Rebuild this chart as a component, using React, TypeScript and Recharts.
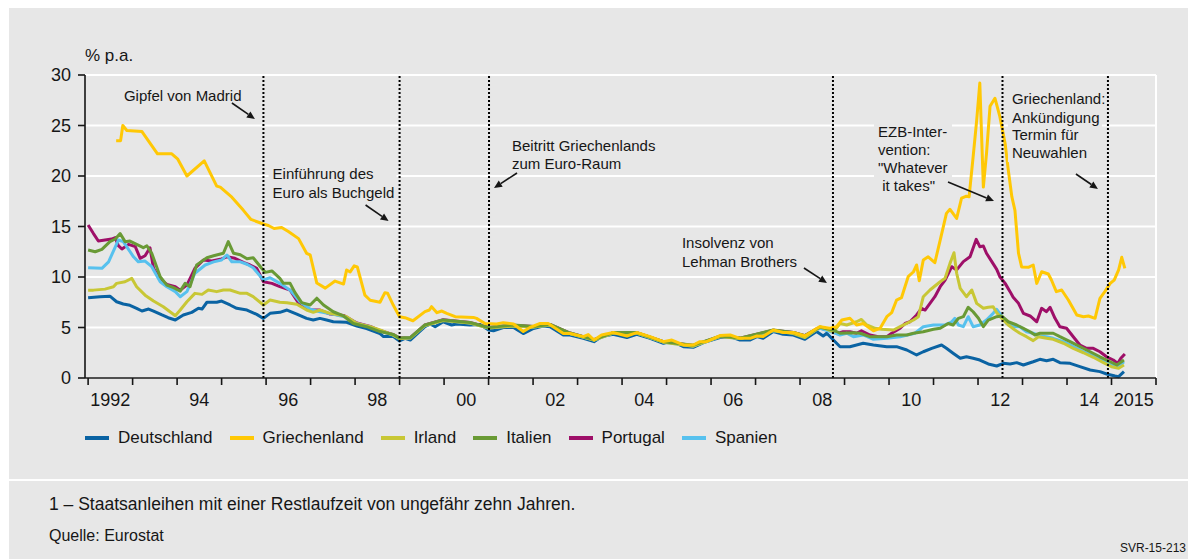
import React from "react";
import { LineChart, Line, XAxis, YAxis, CartesianGrid, ReferenceLine } from "recharts";

const FONT = '"Liberation Sans", Arial, sans-serif';
const PANEL = "#e7e7e7";
const INK = "#161616";

// ---- data: [decimal year, % p.a.] ----
const deutschland: [number, number][] = [
  [1992.0, 7.95], [1992.27, 8.05], [1992.49, 8.1], [1992.64, 7.55], [1992.79, 7.33], [1992.94, 7.2],
  [1993.09, 6.9], [1993.21, 6.63], [1993.36, 6.83], [1993.47, 6.63], [1993.66, 6.24], [1993.8, 5.97],
  [1993.96, 5.74], [1994.14, 6.24], [1994.33, 6.5], [1994.48, 6.9], [1994.56, 6.83], [1994.67, 7.5],
  [1994.89, 7.5], [1995.0, 7.62], [1995.19, 7.23], [1995.34, 6.9], [1995.57, 6.73], [1995.79, 6.3],
  [1995.94, 5.9], [1996.09, 6.4], [1996.31, 6.5], [1996.47, 6.73], [1996.69, 6.33], [1996.91, 5.9],
  [1997.06, 5.74], [1997.21, 5.9], [1997.36, 5.74], [1997.51, 5.57], [1997.81, 5.51], [1998.04, 5.15],
  [1998.26, 4.9], [1998.56, 4.4], [1998.64, 4.1], [1998.86, 4.1], [1999.0, 3.66], [1999.12, 3.93],
  [1999.24, 3.76], [1999.57, 5.08], [1999.69, 5.35], [1999.8, 5.08], [1999.98, 5.57], [2000.17, 5.25],
  [2000.28, 5.35], [2000.58, 5.25], [2000.81, 5.3], [2001.0, 4.75], [2001.11, 4.68], [2001.33, 5.0],
  [2001.56, 5.0], [2001.78, 4.4], [2002.01, 4.9], [2002.23, 5.15], [2002.38, 5.08], [2002.68, 4.26],
  [2002.83, 4.26], [2003.13, 3.93], [2003.37, 3.6], [2003.54, 4.1], [2003.8, 4.33], [2004.11, 4.0],
  [2004.33, 4.33], [2004.63, 3.93], [2004.93, 3.44], [2005.12, 3.66], [2005.38, 3.1], [2005.6, 3.04],
  [2005.83, 3.5], [2006.2, 4.0], [2006.43, 4.1], [2006.65, 3.76], [2006.88, 3.76], [2007.03, 4.1],
  [2007.17, 3.93], [2007.4, 4.6], [2007.62, 4.33], [2007.85, 4.26], [2008.11, 3.83], [2008.37, 4.6],
  [2008.52, 4.16], [2008.6, 4.43], [2008.75, 3.76], [2008.9, 3.1], [2009.12, 3.1], [2009.27, 3.27],
  [2009.42, 3.44], [2009.65, 3.27], [2009.95, 3.1], [2010.17, 3.1], [2010.4, 2.77], [2010.62, 2.28],
  [2010.77, 2.6], [2010.96, 2.94], [2011.18, 3.27], [2011.29, 2.94], [2011.44, 2.45], [2011.6, 1.95],
  [2011.74, 2.1], [2011.89, 1.95], [2012.04, 1.78], [2012.23, 1.39], [2012.42, 1.19], [2012.57, 1.45],
  [2012.72, 1.39], [2012.87, 1.52], [2013.02, 1.29], [2013.24, 1.61], [2013.39, 1.85], [2013.54, 1.71],
  [2013.69, 1.85], [2013.84, 1.52], [2014.07, 1.45], [2014.29, 1.12], [2014.52, 0.79], [2014.74, 0.63],
  [2014.89, 0.4], [2015.08, 0.2], [2015.16, 0.13], [2015.28, 0.63],
];

const griechenland: [number, number][] = [
  [1992.63, 23.5], [1992.73, 23.5], [1992.78, 25.0], [1992.87, 24.5], [1993.21, 24.4], [1993.56, 22.2],
  [1993.88, 22.2], [1994.01, 21.7], [1994.22, 20.0], [1994.61, 21.5], [1994.89, 19.0], [1994.97, 18.9],
  [1995.23, 17.9], [1995.49, 16.6], [1995.66, 15.7], [1995.94, 15.25], [1996.05, 15.1], [1996.18, 14.8],
  [1996.35, 14.9], [1996.5, 14.5], [1996.73, 13.8], [1996.91, 12.35], [1996.99, 12.2], [1997.14, 9.4],
  [1997.33, 8.9], [1997.55, 9.6], [1997.74, 9.3], [1997.81, 10.7], [1997.89, 10.5], [1997.98, 11.1],
  [1998.05, 11.0], [1998.22, 8.2], [1998.34, 7.7], [1998.56, 7.5], [1998.67, 8.45], [1998.73, 8.4],
  [1998.86, 7.2], [1999.0, 6.07], [1999.12, 5.97], [1999.3, 5.67], [1999.57, 6.57], [1999.67, 6.73],
  [1999.72, 7.06], [1999.84, 6.47], [1999.95, 6.63], [2000.06, 6.4], [2000.25, 6.07], [2000.66, 6.0],
  [2000.73, 5.9], [2000.92, 5.4], [2001.18, 5.35], [2001.33, 5.48], [2001.56, 5.35], [2001.78, 4.6],
  [2001.93, 5.0], [2002.16, 5.4], [2002.34, 5.4], [2002.68, 4.4], [2002.83, 4.4], [2003.13, 4.1],
  [2003.24, 4.3], [2003.37, 3.76], [2003.54, 4.26], [2003.8, 4.5], [2004.11, 4.16], [2004.33, 4.5],
  [2004.63, 4.1], [2004.93, 3.6], [2005.12, 3.76], [2005.38, 3.27], [2005.6, 3.27], [2005.75, 3.6],
  [2005.9, 3.6], [2006.2, 4.2], [2006.43, 4.26], [2006.65, 3.93], [2006.88, 3.93], [2007.03, 4.16],
  [2007.17, 4.1], [2007.4, 4.75], [2007.62, 4.5], [2007.85, 4.5], [2008.11, 4.16], [2008.37, 4.9],
  [2008.45, 5.08], [2008.67, 4.92], [2008.82, 5.08], [2008.94, 5.74], [2009.12, 5.91], [2009.27, 5.25],
  [2009.42, 5.4], [2009.65, 4.68], [2009.8, 4.92], [2009.95, 6.07], [2010.06, 6.47], [2010.17, 7.72],
  [2010.28, 7.95], [2010.43, 10.03], [2010.55, 10.52], [2010.62, 11.19], [2010.68, 9.63], [2010.77, 11.68],
  [2010.88, 12.0], [2011.03, 11.42], [2011.15, 13.66], [2011.29, 16.3], [2011.37, 16.7], [2011.52, 15.8],
  [2011.63, 17.8], [2011.74, 18.0], [2011.8, 17.95], [2011.89, 21.9], [2011.97, 25.5], [2012.04, 29.2],
  [2012.12, 18.9], [2012.19, 22.2], [2012.27, 26.9], [2012.38, 27.7], [2012.49, 25.9], [2012.61, 23.2],
  [2012.68, 20.6], [2012.76, 17.95], [2012.83, 16.6], [2012.91, 12.35], [2012.98, 11.0], [2013.13, 10.96],
  [2013.24, 11.19], [2013.32, 9.37], [2013.43, 10.52], [2013.58, 10.3], [2013.65, 9.7], [2013.76, 8.55],
  [2013.88, 8.71], [2014.03, 7.72], [2014.22, 6.24], [2014.37, 6.07], [2014.48, 6.14], [2014.63, 5.91],
  [2014.74, 7.89], [2014.85, 8.55], [2014.97, 9.37], [2015.06, 9.7], [2015.16, 10.7], [2015.23, 11.95],
  [2015.3, 10.86],
];

const irland: [number, number][] = [
  [1992.0, 8.7], [1992.12, 8.7], [1992.38, 8.8], [1992.57, 9.04], [1992.64, 9.37], [1992.83, 9.53],
  [1992.98, 9.87], [1993.09, 9.04], [1993.28, 8.2], [1993.47, 7.62], [1993.69, 7.06], [1993.96, 6.17],
  [1994.07, 6.73], [1994.22, 7.55], [1994.4, 8.38], [1994.56, 8.28], [1994.7, 8.71], [1994.89, 8.55],
  [1995.04, 8.71], [1995.19, 8.71], [1995.42, 8.38], [1995.57, 8.38], [1995.71, 8.05], [1995.94, 7.23],
  [1996.09, 7.72], [1996.31, 7.5], [1996.47, 7.46], [1996.69, 7.3], [1996.91, 6.73], [1997.06, 6.5],
  [1997.21, 6.73], [1997.44, 6.4], [1997.66, 6.24], [1997.81, 6.07], [1998.04, 5.4], [1998.34, 5.08],
  [1998.56, 4.75], [1998.86, 4.25], [1999.0, 3.9], [1999.24, 3.95], [1999.57, 5.2], [1999.98, 5.7],
  [2000.58, 5.45], [2001.0, 4.95], [2001.56, 5.15], [2002.01, 5.05], [2002.38, 5.25], [2002.83, 4.4],
  [2003.37, 3.75], [2003.8, 4.45], [2004.33, 4.45], [2004.93, 3.55], [2005.6, 3.15], [2006.2, 4.1],
  [2006.65, 3.9], [2007.4, 4.7], [2007.85, 4.4], [2008.11, 4.0], [2008.37, 4.8], [2008.45, 5.08],
  [2008.75, 4.58], [2008.9, 5.4], [2009.05, 5.25], [2009.27, 5.57], [2009.38, 5.8], [2009.5, 5.25],
  [2009.69, 4.92], [2009.83, 4.82], [2010.1, 4.75], [2010.25, 5.08], [2010.55, 5.74], [2010.66, 6.07],
  [2010.77, 8.05], [2010.92, 8.71], [2011.15, 9.53], [2011.26, 9.87], [2011.37, 11.35], [2011.46, 12.4],
  [2011.52, 10.37], [2011.6, 8.88], [2011.74, 8.05], [2011.86, 8.71], [2011.97, 7.39], [2012.12, 6.9],
  [2012.23, 7.0], [2012.34, 7.06], [2012.42, 6.47], [2012.53, 5.91], [2012.68, 5.25], [2012.83, 4.75],
  [2012.94, 4.43], [2013.09, 4.09], [2013.24, 3.7], [2013.36, 4.09], [2013.54, 3.93], [2013.69, 3.83],
  [2013.92, 3.44], [2014.14, 2.94], [2014.37, 2.5], [2014.59, 2.05], [2014.82, 1.52], [2015.0, 1.12],
  [2015.16, 0.96], [2015.28, 1.29],
];

const italien: [number, number][] = [
  [1992.0, 12.67], [1992.16, 12.5], [1992.31, 12.74], [1992.49, 13.5], [1992.61, 13.76], [1992.72, 14.3],
  [1992.83, 13.5], [1992.94, 13.56], [1993.09, 13.23], [1993.24, 12.9], [1993.32, 13.1], [1993.43, 12.35],
  [1993.62, 10.03], [1993.77, 9.2], [1993.92, 8.94], [1994.07, 8.6], [1994.18, 9.37], [1994.29, 9.04],
  [1994.44, 11.2], [1994.67, 11.9], [1994.82, 12.1], [1995.04, 12.35], [1995.15, 13.5], [1995.27, 12.35],
  [1995.42, 12.2], [1995.57, 11.8], [1995.71, 11.9], [1995.9, 10.86], [1995.98, 10.46], [1996.13, 10.6],
  [1996.31, 9.87], [1996.39, 9.37], [1996.54, 9.37], [1996.65, 8.45], [1996.8, 7.46], [1996.99, 7.23],
  [1997.14, 7.9], [1997.29, 7.23], [1997.51, 6.56], [1997.74, 6.14], [1997.96, 5.4], [1998.26, 5.08],
  [1998.56, 4.6], [1998.86, 4.3], [1999.0, 3.95], [1999.24, 4.0], [1999.57, 5.25], [1999.98, 5.75],
  [2000.58, 5.5], [2001.0, 5.0], [2001.56, 5.25], [2002.01, 5.1], [2002.38, 5.3], [2002.83, 4.45],
  [2003.37, 3.8], [2003.8, 4.5], [2004.33, 4.5], [2004.93, 3.6], [2005.6, 3.25], [2006.2, 4.15],
  [2006.65, 3.95], [2007.4, 4.75], [2007.85, 4.5], [2008.11, 4.2], [2008.37, 4.85], [2008.45, 5.02],
  [2008.75, 4.75], [2008.9, 4.43], [2009.2, 4.49], [2009.35, 4.43], [2009.57, 4.09], [2009.95, 4.09],
  [2010.17, 4.26], [2010.4, 4.26], [2010.55, 4.43], [2010.77, 4.58], [2011.0, 4.82], [2011.15, 4.92],
  [2011.33, 5.4], [2011.44, 5.25], [2011.56, 5.91], [2011.67, 6.07], [2011.78, 7.0], [2011.89, 6.56],
  [2012.01, 5.91], [2012.12, 5.08], [2012.23, 5.74], [2012.42, 6.07], [2012.53, 6.14], [2012.68, 5.57],
  [2012.87, 5.25], [2013.02, 4.92], [2013.17, 4.58], [2013.28, 4.26], [2013.39, 4.43], [2013.54, 4.43],
  [2013.69, 4.43], [2013.84, 4.09], [2014.07, 3.6], [2014.29, 3.1], [2014.52, 2.6], [2014.74, 2.1],
  [2014.97, 1.61], [2015.12, 1.29], [2015.28, 1.78],
];

const portugal: [number, number][] = [
  [1992.0, 15.15], [1992.12, 14.3], [1992.23, 13.56], [1992.38, 13.66], [1992.53, 13.76], [1992.61, 13.9],
  [1992.68, 13.1], [1992.76, 12.77], [1992.91, 13.23], [1993.06, 13.0], [1993.17, 11.85], [1993.28, 12.1],
  [1993.39, 12.9], [1993.47, 10.86], [1993.62, 9.7], [1993.77, 9.27], [1993.96, 9.04], [1994.07, 8.7],
  [1994.22, 9.2], [1994.4, 10.86], [1994.59, 11.68], [1994.78, 11.58], [1994.97, 11.75], [1995.12, 12.0],
  [1995.3, 11.85], [1995.49, 11.45], [1995.64, 11.19], [1995.79, 10.86], [1995.94, 9.53], [1996.13, 9.37],
  [1996.31, 9.04], [1996.54, 8.7], [1996.76, 7.2], [1996.99, 6.73], [1997.21, 6.73], [1997.44, 6.33],
  [1997.74, 6.2], [1998.04, 5.45], [1998.34, 5.1], [1998.56, 4.7], [1998.86, 4.3], [1999.0, 3.95],
  [1999.24, 4.0], [1999.57, 5.25], [1999.98, 5.78], [2000.58, 5.5], [2001.0, 5.0], [2001.56, 5.22],
  [2002.01, 5.1], [2002.38, 5.3], [2002.83, 4.45], [2003.37, 3.8], [2003.8, 4.48], [2004.33, 4.5],
  [2004.93, 3.6], [2005.6, 3.22], [2006.2, 4.12], [2006.65, 3.95], [2007.4, 4.72], [2007.85, 4.5],
  [2008.11, 4.2], [2008.37, 4.85], [2008.45, 4.92], [2008.75, 4.68], [2008.86, 4.43], [2008.97, 4.58],
  [2009.12, 4.58], [2009.27, 4.43], [2009.38, 4.68], [2009.57, 4.26], [2009.76, 4.09], [2009.95, 4.09],
  [2010.06, 4.43], [2010.25, 4.92], [2010.36, 5.4], [2010.47, 5.57], [2010.62, 6.24], [2010.73, 6.9],
  [2010.81, 6.73], [2010.92, 7.39], [2011.03, 8.05], [2011.15, 9.04], [2011.26, 9.7], [2011.41, 11.02],
  [2011.52, 10.7], [2011.67, 11.52], [2011.82, 12.0], [2011.96, 13.73], [2012.04, 13.0], [2012.12, 13.07],
  [2012.19, 12.35], [2012.31, 11.52], [2012.42, 10.76], [2012.49, 10.03], [2012.61, 9.37], [2012.72, 8.55],
  [2012.79, 7.99], [2012.91, 7.39], [2013.02, 6.4], [2013.17, 6.14], [2013.32, 5.57], [2013.43, 6.9],
  [2013.54, 6.57], [2013.62, 7.0], [2013.73, 5.91], [2013.84, 5.08], [2013.99, 4.92], [2014.14, 4.09],
  [2014.29, 3.27], [2014.44, 2.94], [2014.59, 2.94], [2014.74, 2.6], [2014.89, 2.1], [2015.04, 1.78],
  [2015.14, 1.45], [2015.21, 1.95], [2015.3, 2.38],
];

const spanien: [number, number][] = [
  [1992.0, 10.92], [1992.31, 10.86], [1992.46, 11.5], [1992.68, 13.66], [1992.79, 13.5], [1993.02, 12.0],
  [1993.13, 11.5], [1993.28, 11.58], [1993.43, 11.02], [1993.62, 9.53], [1993.77, 9.04], [1993.96, 8.55],
  [1994.07, 8.05], [1994.22, 8.55], [1994.4, 10.37], [1994.63, 11.19], [1994.82, 11.5], [1995.0, 11.68],
  [1995.12, 12.18], [1995.23, 11.5], [1995.42, 11.5], [1995.57, 11.26], [1995.71, 10.92], [1995.94, 9.7],
  [1996.09, 9.93], [1996.31, 9.37], [1996.54, 8.7], [1996.76, 7.55], [1996.99, 6.8], [1997.21, 6.56],
  [1997.51, 6.3], [1997.81, 6.0], [1998.04, 5.4], [1998.34, 5.05], [1998.56, 4.65], [1998.86, 4.25],
  [1999.0, 3.92], [1999.24, 3.98], [1999.57, 5.2], [1999.98, 5.72], [2000.58, 5.45], [2001.0, 4.95],
  [2001.56, 5.18], [2002.01, 5.05], [2002.38, 5.25], [2002.83, 4.4], [2003.37, 3.75], [2003.8, 4.45],
  [2004.33, 4.45], [2004.93, 3.55], [2005.6, 3.17], [2006.2, 4.1], [2006.65, 3.9], [2007.4, 4.68],
  [2007.85, 4.45], [2008.11, 4.1], [2008.37, 4.8], [2008.45, 4.92], [2008.75, 4.49], [2008.9, 4.26],
  [2009.05, 4.43], [2009.2, 4.09], [2009.42, 4.26], [2009.65, 3.83], [2009.95, 3.93], [2010.25, 4.09],
  [2010.58, 4.43], [2010.77, 5.08], [2011.0, 5.25], [2011.26, 5.25], [2011.41, 5.57], [2011.48, 5.91],
  [2011.56, 5.25], [2011.67, 5.08], [2011.78, 6.07], [2011.89, 5.08], [2012.04, 5.25], [2012.19, 5.74],
  [2012.34, 6.4], [2012.42, 6.8], [2012.53, 6.14], [2012.64, 5.4], [2012.79, 5.08], [2012.94, 5.08],
  [2013.09, 4.58], [2013.24, 4.43], [2013.39, 4.16], [2013.54, 4.09], [2013.69, 3.93], [2013.92, 3.6],
  [2014.14, 3.1], [2014.37, 2.6], [2014.59, 2.18], [2014.82, 1.78], [2015.0, 1.39], [2015.16, 1.19],
  [2015.28, 1.61],
];

// axis ticks and labels
const yearTicks = [1992, 1993, 1994, 1995, 1996, 1997, 1998, 1999, 2000, 2001, 2002, 2003, 2004,
  2005, 2006, 2007, 2008, 2009, 2010, 2011, 2012, 2013, 2014, 2015, 2016];
const yearLabels: Record<number, string> = {
  1992: "1992", 1994: "94", 1996: "96", 1998: "98", 2000: "00", 2002: "02", 2004: "04",
  2006: "06", 2008: "08", 2010: "10", 2012: "12", 2014: "14", 2015: "2015",
};
const yTicks = [0, 5, 10, 15, 20, 25, 30];

// legend order vs. drawing order
const series = [
  { name: "Deutschland", color: "#0a63a3", data: deutschland },
  { name: "Griechenland", color: "#ffc805", data: griechenland },
  { name: "Irland", color: "#c8c735", data: irland },
  { name: "Italien", color: "#699a35", data: italien },
  { name: "Portugal", color: "#9e0f68", data: portugal },
  { name: "Spanien", color: "#57c1ee", data: spanien },
];
const drawOrder = ["Deutschland", "Portugal", "Spanien", "Irland", "Italien", "Griechenland"];

// events (vertical dotted lines); text/arrow offsets are relative to the line
const events = [
  { t: 1995.94, lines: ["Gipfel von Madrid"], dx: -139.5, rows: [95], boxW: 126, arrow: [-31.5, 103, -8.5, 119] },
  { t: 1999.0, lines: ["Einführung des", "Euro als Buchgeld"], dx: -127, rows: [173, 192], boxW: 128, arrow: [-34, 205, -11, 221] },
  { t: 2001.01, lines: ["Beitritt Griechenlands", "zum Euro-Raum"], dx: 23, rows: [145, 163], boxW: 152, arrow: [28, 173, 5, 188] },
  { t: 2008.74, lines: ["Insolvenz von", "Lehman Brothers"], dx: -151, rows: [242, 261], boxW: 126, arrow: [-29, 268, -6, 283] },
  { t: 2012.55, lines: ["EZB-Inter-", "vention:", "\"Whatever", "\u00a0it takes\""], dx: -124.5, rows: [131, 149, 167, 185], boxW: 78, arrow: [-54.5, 182, -8.5, 201] },
  { t: 2014.92, lines: ["Griechenland:", "Ankündigung", "Termin für", "Neuwahlen"], dx: -96, rows: [98, 117, 134, 152], boxW: 94, arrow: [-32, 174, -10, 189] },
];

const CHART_W = 1188;
const CHART_H = 478;
const Y_AXIS_W = 85;
const MARGIN = { top: 75, right: 32, bottom: 70, left: 0 };
const X_DOMAIN: [number, number] = [1991.93, 2016];
const YEAR_PX = (CHART_W - MARGIN.left - MARGIN.right - Y_AXIS_W) / (X_DOMAIN[1] - X_DOMAIN[0]);

const toPoints = (arr: [number, number][]) => arr.map(([t, v]) => ({ t, v }));

function XTick(props: any) {
  const { x, y, payload } = props;
  const label = yearLabels[payload.value];
  if (!label) return <g />;
  return (
    <text x={x + YEAR_PX / 2} y={y + 13} textAnchor="middle" dominantBaseline="central"
      fontSize={18} fontFamily={FONT} fill={INK}>
      {label}
    </text>
  );
}

function Arrow({ x1, y1, x2, y2 }: { x1: number; y1: number; x2: number; y2: number }) {
  const a = Math.atan2(y2 - y1, x2 - x1);
  const L = 8;
  const W = 3.6;
  const bx = x2 - L * Math.cos(a);
  const by = y2 - L * Math.sin(a);
  const pts = `${x2},${y2} ${bx - W * Math.sin(a)},${by + W * Math.cos(a)} ${bx + W * Math.sin(a)},${by - W * Math.cos(a)}`;
  return (
    <g>
      <line x1={x1} y1={y1} x2={bx} y2={by} stroke={INK} strokeWidth={1.6} />
      <polygon points={pts} fill={INK} />
    </g>
  );
}

const eventLabel = (ev: (typeof events)[number]) => (props: any) => {
  const vb = props.viewBox || {};
  const x0 = vb.x ?? 0;
  const left = x0 + ev.dx;
  const top = ev.rows[0] - 10;
  const bottom = ev.rows[ev.rows.length - 1] + 10;
  return (
    <g>
      <rect x={left - 4} y={top} width={ev.boxW} height={bottom - top} fill={PANEL} />
      {ev.lines.map((s, i) => (
        <text key={i} x={left} y={ev.rows[i]} dominantBaseline="central" fontSize={15}
          fontFamily={FONT} fill={INK}>
          {s}
        </text>
      ))}
      <Arrow x1={x0 + ev.arrow[0]} y1={ev.arrow[1]} x2={x0 + ev.arrow[2]} y2={ev.arrow[3]} />
    </g>
  );
};

export default function App() {
  return (
    <div style={{ position: "absolute", left: 0, top: 0, width: 1188, height: 559, background: "#fff", fontFamily: FONT, overflow: "hidden" }}>
      <div style={{ position: "absolute", left: 9, top: 8, width: 1179, height: 470.5, background: PANEL }} />
      <div style={{ position: "absolute", left: 9, top: 481, width: 1179, height: 78, background: PANEL }} />

      <div style={{ position: "absolute", left: 85, top: 46, fontSize: 17, color: INK, lineHeight: "20px" }}>% p.a.</div>

      <div style={{ position: "absolute", left: 0, top: 0 }}>
        <LineChart width={CHART_W} height={CHART_H} margin={MARGIN}>
          <CartesianGrid horizontal vertical={false} stroke="#ffffff" strokeWidth={2} />
          <XAxis
            type="number"
            dataKey="t"
            domain={X_DOMAIN}
            ticks={yearTicks}
            interval={0}
            allowDataOverflow
            height={30}
            axisLine={{ stroke: INK, strokeWidth: 1.6 }}
            tickLine={{ stroke: INK, strokeWidth: 1.6 }}
            tickSize={7}
            tickMargin={2}
            tick={<XTick />}
          />
          <YAxis
            type="number"
            domain={[0, 30]}
            ticks={yTicks}
            interval={0}
            width={Y_AXIS_W}
            axisLine={{ stroke: INK, strokeWidth: 1.6 }}
            tickLine={{ stroke: INK, strokeWidth: 1.6 }}
            tickSize={7}
            tickMargin={7}
            tick={{ fontSize: 18, fontFamily: FONT, fill: INK }}
          />
          <ReferenceLine x={2016} stroke="#ffffff" strokeWidth={2} />
          {drawOrder.map((n) => {
            const s = series.find((d) => d.name === n)!;
            return (
              <Line
                key={s.name}
                data={toPoints(s.data)}
                dataKey="v"
                name={s.name}
                type="linear"
                stroke={s.color}
                strokeWidth={3}
                strokeLinejoin="round"
                dot={false}
                activeDot={false}
                isAnimationActive={false}
              />
            );
          })}
          {events.map((ev) => (
            <ReferenceLine key={ev.t} x={ev.t} stroke="#000" strokeWidth={2} strokeDasharray="2 2"
              label={eventLabel(ev)} />
          ))}
        </LineChart>
      </div>

      <div style={{ position: "absolute", left: 85, top: 427, height: 22, display: "flex", alignItems: "center", fontSize: 17, color: INK }}>
        {series.map((s) => (
          <div key={s.name} style={{ display: "flex", alignItems: "center", marginRight: 17 }}>
            <span style={{ display: "inline-block", width: 24, height: 4, background: s.color, marginRight: 9 }} />
            <span>{s.name}</span>
          </div>
        ))}
      </div>

      <div style={{ position: "absolute", left: 49, top: 494, fontSize: 17.5, color: INK, lineHeight: "20px", whiteSpace: "nowrap" }}>
        1 – Staatsanleihen mit einer Restlaufzeit von ungefähr zehn Jahren.
      </div>
      <div style={{ position: "absolute", left: 49, top: 526, fontSize: 16, color: INK, lineHeight: "20px" }}>
        Quelle: Eurostat
      </div>
      <div style={{ position: "absolute", right: 2, top: 540, fontSize: 12, color: INK, lineHeight: "16px" }}>
        SVR-15-213
      </div>
    </div>
  );
}
